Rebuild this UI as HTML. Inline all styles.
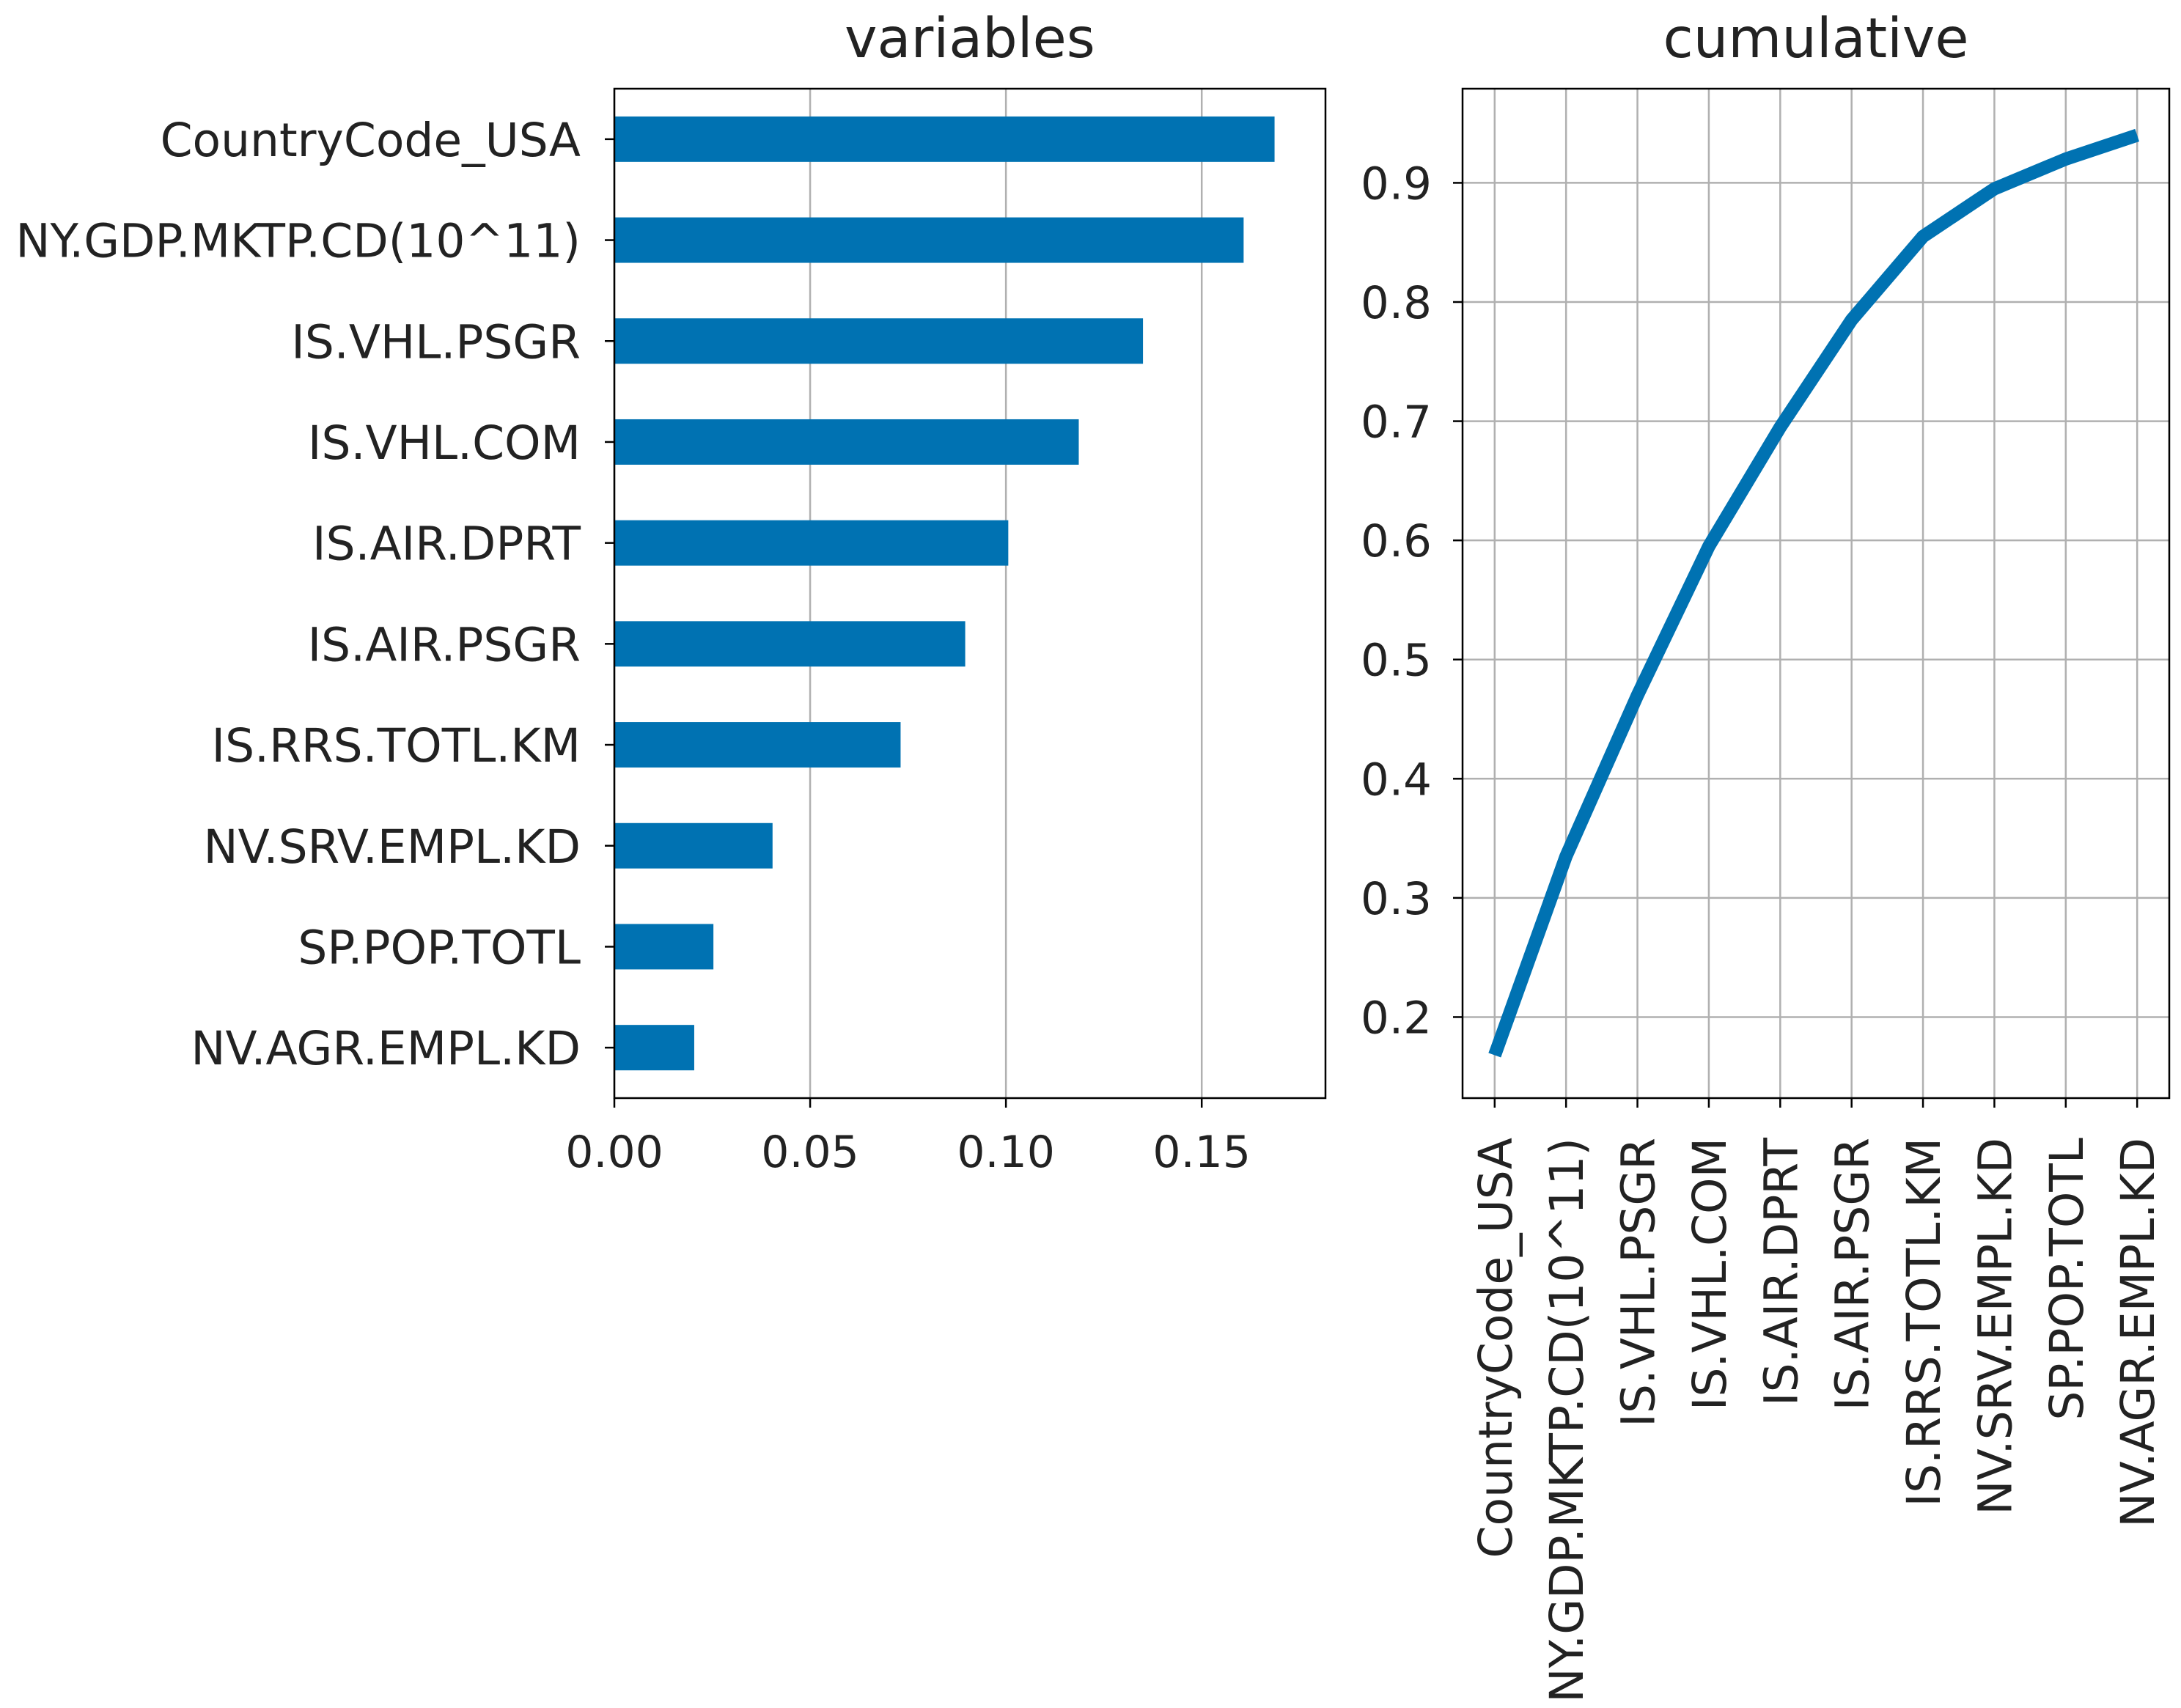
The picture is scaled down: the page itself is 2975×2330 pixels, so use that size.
<!DOCTYPE html>
<html><head><meta charset="utf-8"><style>
html,body{margin:0;padding:0;background:#fff;}
svg{display:block;font-family:"DejaVu Sans","Liberation Sans",sans-serif;}
</style></head><body>
<svg id="chart" width="2975" height="2330" viewBox="0 0 2975 2330" xmlns="http://www.w3.org/2000/svg"></svg>
<script>
const categories = ["CountryCode_USA","NY.GDP.MKTP.CD(10^11)","IS.VHL.PSGR","IS.VHL.COM","IS.AIR.DPRT","IS.AIR.PSGR","IS.RRS.TOTL.KM","NV.SRV.EMPL.KD","SP.POP.TOTL","NV.AGR.EMPL.KD"];
const importance = [0.1686,0.1607,0.135,0.1186,0.1006,0.0896,0.0731,0.0404,0.0253,0.0204];
const cumulative = [0.168,0.335,0.47,0.595,0.695,0.785,0.855,0.895,0.92,0.94];
const xTicks = [0,0.05,0.10,0.15];
const xTickLabels = ["0.00","0.05","0.10","0.15"];
const yTicks = [0.2,0.3,0.4,0.5,0.6,0.7,0.8,0.9];
const yTickLabels = ["0.2","0.3","0.4","0.5","0.6","0.7","0.8","0.9"];

const NS="http://www.w3.org/2000/svg";
const svg=document.getElementById('chart');
const BLUE="#0072b2";
function mk(tag,attrs,parent){const e=document.createElementNS(NS,tag);for(const k in attrs)e.setAttribute(k,attrs[k]);(parent||svg).appendChild(e);return e;}

// Left axes
const L={x0:838,x1:1808,y0:121,y1:1498,xmin:0,xmax:0.1816};
const lx=v=>L.x0+(v-L.xmin)/(L.xmax-L.xmin)*(L.x1-L.x0);
const band=(L.y1-L.y0)/categories.length;
const ly=i=>L.y0+band*(i+0.5);
const gL=mk('g',{});


xTicks.forEach((t,i)=>{
  const g=mk('line',{x1:lx(t),x2:lx(t),y1:L.y0,y2:L.y1,stroke:"#b0b0b0","stroke-width":2.5},gL);
  
  
});
categories.forEach((c,i)=>{
  const r=mk('rect',{x:lx(0),y:ly(i)-band*0.225,width:lx(importance[i])-lx(0),height:band*0.45,fill:BLUE},gL);
  
  
  const tk=mk('line',{x1:L.x0-13,x2:L.x0,y1:ly(i),y2:ly(i),stroke:"#000","stroke-width":2.5},gL);
  
  
  const tx=mk('text',{x:L.x0-46,y:ly(i)+23,"text-anchor":"end","font-size":63,fill:"#222"},gL);
  tx.textContent=c;
  
  
});
xTicks.forEach((t,i)=>{
  const tk=mk('line',{x1:lx(t),x2:lx(t),y1:L.y1,y2:L.y1+13,stroke:"#000","stroke-width":2.5},gL);
  
  
  const tx=mk('text',{x:lx(t),y:1592,"text-anchor":"middle","font-size":60,fill:"#222"},gL);
  tx.textContent=xTickLabels[i];
  
  
});
const fL=mk('rect',{x:L.x0,y:L.y0,width:L.x1-L.x0,height:L.y1-L.y0,fill:"none",stroke:"#000","stroke-width":2.5},gL);


const tL=mk('text',{x:(L.x0+L.x1)/2,y:78,"text-anchor":"middle","font-size":75,fill:"#222"},gL);
tL.textContent="variables";



// Right axes
const R={x0:1995,x1:2959,y0:121,y1:1498,ymin:0.132,ymax:0.979,xmin:-0.45,xmax:9.45};
const rx=i=>R.x0+(i-R.xmin)/(R.xmax-R.xmin)*(R.x1-R.x0);
const ry=v=>R.y1-(v-R.ymin)/(R.ymax-R.ymin)*(R.y1-R.y0);
const gR=mk('g',{});


yTicks.forEach((t,i)=>{
  const g=mk('line',{x1:R.x0,x2:R.x1,y1:ry(t),y2:ry(t),stroke:"#b0b0b0","stroke-width":2.5},gR);
  
  
  const tk=mk('line',{x1:R.x0-13,x2:R.x0,y1:ry(t),y2:ry(t),stroke:"#000","stroke-width":2.5},gR);
  
  
  const tx=mk('text',{x:R.x0-42,y:ry(t)+22,"text-anchor":"end","font-size":61,fill:"#222"},gR);
  tx.textContent=yTickLabels[i];
  
  
});
categories.forEach((c,i)=>{
  const g=mk('line',{x1:rx(i),x2:rx(i),y1:R.y0,y2:R.y1,stroke:"#b0b0b0","stroke-width":2.5},gR);
  
  
  const tk=mk('line',{x1:rx(i),x2:rx(i),y1:R.y1,y2:R.y1+13,stroke:"#000","stroke-width":2.5},gR);
  
  
  const tx=mk('text',{transform:`translate(${rx(i)+23},1552) rotate(-90)`,"text-anchor":"end","font-size":63,fill:"#222"},gR);
  tx.textContent=c;
  
  
});
const pts=cumulative.map((v,i)=>rx(i)+','+ry(v)).join(' ');
const pl=mk('polyline',{points:pts,fill:"none",stroke:BLUE,"stroke-width":18,"stroke-linejoin":"round"},gR);


const fR=mk('rect',{x:R.x0,y:R.y0,width:R.x1-R.x0,height:R.y1-R.y0,fill:"none",stroke:"#000","stroke-width":2.5},gR);


const tR=mk('text',{x:(R.x0+R.x1)/2,y:78,"text-anchor":"middle","font-size":75,fill:"#222"},gR);
tR.textContent="cumulative";


</script>
</body></html>
